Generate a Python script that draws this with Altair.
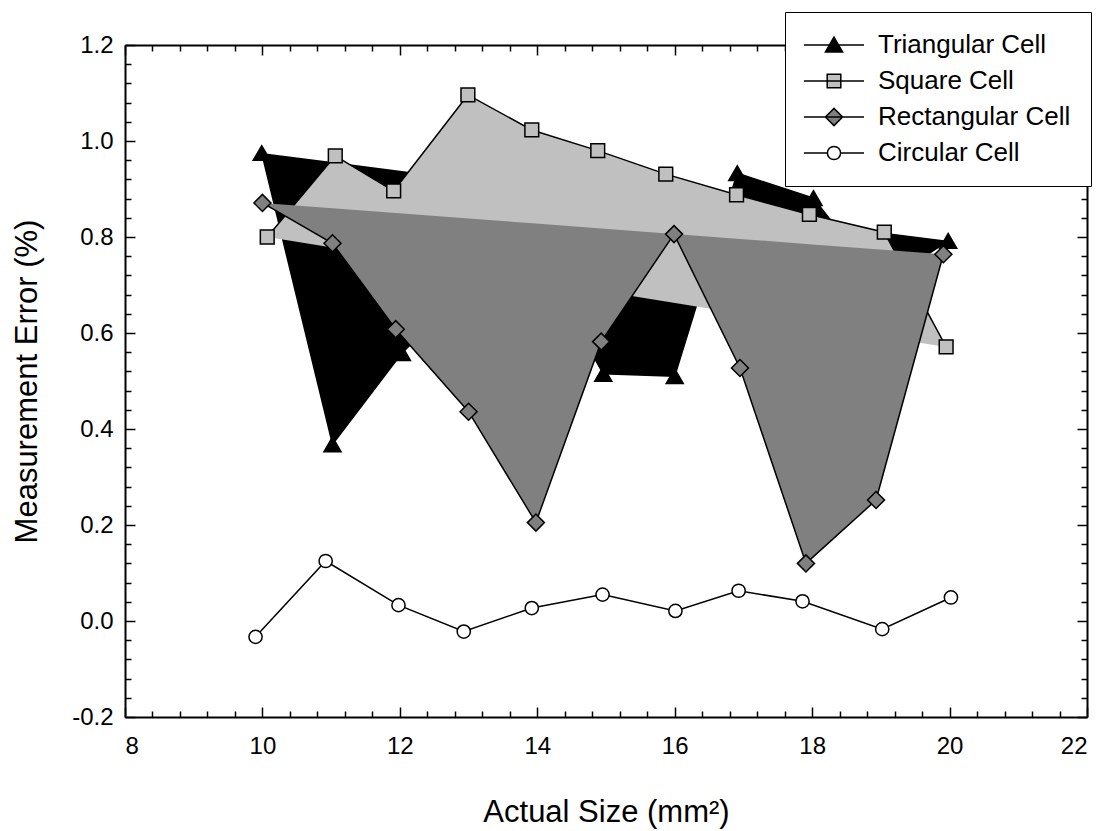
import altair as alt
import pandas as pd

FONT = "Liberation Sans"

series_names = ["Triangular Cell", "Square Cell", "Rectangular Cell", "Circular Cell"]

tri_x = [9.99, 11.02, 12.03, 13.0, 14.0, 14.96, 16.0, 16.91, 18.02, 19.0, 19.98]
tri_y = [0.975, 0.368, 0.558, 0.70, 0.76, 0.515, 0.51, 0.933, 0.881, 0.70, 0.792]
sq_x = [10.07, 11.06, 11.91, 12.99, 13.92, 14.88, 15.87, 16.9, 17.96, 19.05, 19.95]
sq_y = [0.80, 0.969, 0.896, 1.096, 1.023, 0.98, 0.931, 0.888, 0.847, 0.81, 0.571]
rect_x = [10.0, 11.02, 11.94, 13.0, 13.98, 14.93, 15.99, 16.95, 17.91, 18.93, 19.91]
rect_y = [0.871, 0.787, 0.608, 0.436, 0.205, 0.582, 0.806, 0.527, 0.12, 0.252, 0.764]
circ_x = [9.90, 10.92, 11.98, 12.93, 13.92, 14.95, 16.01, 16.93, 17.86, 19.02, 20.02]
circ_y = [-0.033, 0.125, 0.033, -0.022, 0.027, 0.055, 0.021, 0.063, 0.041, -0.017, 0.049]

x_major = [8, 10, 12, 14, 16, 18, 20, 22]
y_major = [-0.2, 0.0, 0.2, 0.4, 0.6, 0.8, 1.0, 1.2]

fills = ["#000000", "#c0c0c0", "#808080", "#ffffff"]
shapes = ["triangle-up", "square", "diamond", "circle"]
sizes = [290, 190, 290, 175]
legend_paths = [
    "M-3,0L3,0M0,-0.8L0.86,0.7L-0.86,0.7Z",
    "M-3,0L3,0M-0.68,-0.68L0.68,-0.68L0.68,0.68L-0.68,0.68Z",
    "M-3,0L3,0M0,-0.86L0.86,0L0,0.86L-0.86,0Z",
    "M-3,0L-0.66,0M0.66,0L3,0M-0.66,0A0.66,0.66,0,1,0,0.66,0A0.66,0.66,0,1,0,-0.66,0Z",
]

xs_list = [tri_x, sq_x, rect_x, circ_x]
ys_list = [tri_y, sq_y, rect_y, circ_y]
rows = []
for name, xv, yv in zip(series_names, xs_list, ys_list):
    for a, b in zip(xv, yv):
        rows.append({"series": name, "x": a, "v": b})
df = pd.DataFrame(rows)

# tick positions (major + minor)
x_ticks = sorted({round(a + k * 0.4, 2) for a in x_major[:-1] for k in range(5)} | {x_major[-1]})
y_ticks = sorted({round(a + k * 0.04, 2) for a in y_major[:-1] for k in range(5)} | {y_major[-1]})

MAJX = "datum.value % 2 == 0"
MAJY = "abs(datum.value*5 - round(datum.value*5)) < 0.001"

W, H = 962, 672

xs = alt.Scale(domain=[8, 22], nice=False, zero=False)
ys = alt.Scale(domain=[-0.2, 1.2], nice=False, zero=False)

# label axes (no ticks, no domain)
ax_x_lab = alt.Axis(
    orient="bottom", values=x_major, format="d", ticks=False, domain=False,
    tickSize=0, labelPadding=17, labelOverlap=False,
    title="Actual Size (mm\u00b2)", titleX=481, titleY=95, titleAlign="center",
    titleBaseline="middle",
)
ax_y_lab = alt.Axis(
    orient="left", values=y_major, format=".1f", ticks=False, domain=False,
    tickSize=0, labelPadding=12, labelOverlap=False,
    labelExpr="replace(datum.label, '\u2212', '-')",
    title="Measurement Error (%)", titleX=-98, titleY=336, titleAngle=270,
    titleAlign="center", titleBaseline="middle",
)
tsx = {"condition": {"test": MAJX, "value": 10}, "value": 6}
tsy = {"condition": {"test": MAJY, "value": 10}, "value": 6}
# inward tick axes: opposite orient, shifted across the plot
ax_bottom_ticks = alt.Axis(orient="top", offset=-H, values=x_ticks, labels=False,
                           title=None, tickSize=tsx)
ax_left_ticks = alt.Axis(orient="right", offset=-W, values=y_ticks, labels=False,
                         title=None, tickSize=tsy)
ax_top_ticks = alt.Axis(orient="bottom", offset=-H, values=x_ticks, labels=False,
                        title=None, tickSize=tsx)
ax_right_ticks = alt.Axis(orient="left", offset=-W, values=y_ticks, labels=False,
                          title=None, tickSize=tsy)

layers = []
for i, name in enumerate(series_names):
    base = alt.Chart(df).transform_filter(alt.datum.series == name)
    if i < 3:
        if i == 0:
            ex, ey = ax_x_lab, ax_y_lab
        else:
            ex, ey = None, None
        area = base.transform_window(
            x0="first_value(x)", x1="last_value(x)",
            v0="first_value(v)", v1="last_value(v)",
            frame=[None, None], sort=[alt.SortField("x", order="ascending")],
        ).transform_calculate(
            chord="datum.v0 + (datum.v1 - datum.v0) * (datum.x - datum.x0) / (datum.x1 - datum.x0)"
        ).mark_area(color=fills[i], opacity=1, interpolate="linear").encode(
            x=alt.X("x:Q", scale=xs, axis=ex),
            y=alt.Y("v:Q", scale=ys, axis=ey),
            y2="chord:Q",
        )
        layers.append(area)
    if i == 0:
        lx, ly = ax_bottom_ticks, ax_left_ticks
        px_, py_ = ax_top_ticks, ax_right_ticks
    else:
        lx, ly, px_, py_ = None, None, None, None
    line = base.mark_line(color="black", strokeWidth=1.5).encode(
        x=alt.X("x:Q", scale=xs, axis=lx),
        y=alt.Y("v:Q", scale=ys, axis=ly),
        order="x:Q",
    )
    pts = base.mark_point(
        shape=shapes[i], filled=True, fill=fills[i], stroke="black",
        strokeWidth=1.5, size=sizes[i], opacity=1,
    ).encode(
        x=alt.X("x:Q", scale=xs, axis=px_),
        y=alt.Y("v:Q", scale=ys, axis=py_),
    )
    layers += [line, pts]

leg = alt.Legend(
    orient="none", legendX=660, legendY=-33, title=None,
    fillColor="white", strokeColor="black", padding=20,
    symbolSize=400, symbolStrokeWidth=1.5, symbolStrokeColor="black",
    symbolOffset=16, labelFont=FONT, labelFontSize=26, labelColor="black",
    labelOffset=31, rowPadding=10, labelLimit=400,
)
legend_layer = alt.Chart(df).transform_filter("false").mark_point(
    filled=True, strokeWidth=1.5, opacity=1
).encode(
    x=alt.X("x:Q", scale=xs, axis=None),
    y=alt.Y("v:Q", scale=ys, axis=None),
    shape=alt.Shape("series:N", scale=alt.Scale(domain=series_names, range=legend_paths), legend=leg),
    fill=alt.Fill("series:N", scale=alt.Scale(domain=series_names, range=fills), legend=leg),
    stroke=alt.Stroke("series:N", scale=alt.Scale(domain=series_names, range=["#000000"] * 4), legend=leg),
)
layers.append(legend_layer)

chart = alt.layer(*layers).resolve_axis(x="independent", y="independent").properties(
    width=W, height=H,
    autosize=alt.AutoSizeParams(type="none"),
    padding={"left": 125, "top": 45, "right": 16, "bottom": 114},
    background="white",
).configure_view(stroke=None).configure_axis(
    domainColor="black", domainWidth=2, tickColor="black", tickWidth=1.5,
    labelFont=FONT, labelFontSize=24, labelColor="black",
    titleFont=FONT, titleFontSize=31, titleFontWeight="normal", titleColor="black",
    grid=False,
)

chart.save("out.html", embed_options={"renderer": "svg", "actions": False})
